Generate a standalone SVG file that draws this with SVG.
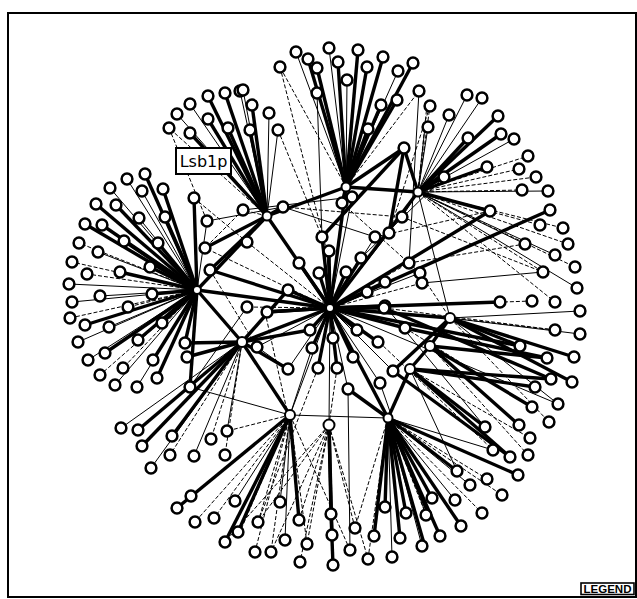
<svg xmlns="http://www.w3.org/2000/svg" width="637" height="599" viewBox="0 0 637 599">
<style>
line{stroke:#000;fill:none}
.k{stroke-width:3.4}
.s{stroke-width:1}
.d{stroke-width:1;stroke-dasharray:4 2}
.nd circle{fill:#fff;stroke:#000;stroke-width:2.5}
.hub circle{fill:#fff;stroke:#000;stroke-width:2}
</style>
<rect x="0" y="0" width="637" height="599" fill="#fff"/>
<rect x="8" y="13" width="628" height="584" fill="none" stroke="#000" stroke-width="2"/>
<g id="edges">
<line class="k" x1="197" y1="290" x2="330" y2="308"/>
<line class="k" x1="197" y1="290" x2="242" y2="342"/>
<line class="k" x1="197" y1="290" x2="267" y2="216"/>
<line class="k" x1="267" y1="216" x2="330" y2="308"/>
<line class="k" x1="346" y1="187" x2="330" y2="308"/>
<line class="k" x1="330" y1="308" x2="418" y2="192"/>
<line class="k" x1="330" y1="308" x2="450" y2="318"/>
<line class="k" x1="330" y1="308" x2="242" y2="342"/>
<line class="s" x1="330" y1="308" x2="290" y2="415"/>
<line class="s" x1="330" y1="308" x2="329" y2="425"/>
<line class="k" x1="330" y1="308" x2="388" y2="418"/>
<line class="k" x1="450" y1="318" x2="430" y2="346"/>
<line class="k" x1="430" y1="346" x2="410" y2="369"/>
<line class="k" x1="410" y1="369" x2="388" y2="418"/>
<line class="k" x1="290" y1="415" x2="242" y2="342"/>
<line class="s" x1="418" y1="192" x2="450" y2="318"/>
<line class="k" x1="346" y1="187" x2="418" y2="192"/>
<line class="k" x1="267" y1="216" x2="346" y2="187"/>
<line class="k" x1="197" y1="290" x2="190" y2="387"/>
<line class="k" x1="242" y1="342" x2="288" y2="369"/>
<line class="k" x1="185" y1="343" x2="242" y2="342"/>
<line class="s" x1="290" y1="415" x2="388" y2="418"/>
<line class="k" x1="410" y1="369" x2="535" y2="387"/>
<line class="k" x1="410" y1="369" x2="551" y2="379"/>
<line class="d" x1="346" y1="187" x2="280" y2="67"/>
<line class="s" x1="346" y1="187" x2="296" y2="52"/>
<line class="k" x1="346" y1="187" x2="308" y2="59"/>
<line class="k" x1="346" y1="187" x2="317" y2="68"/>
<line class="s" x1="346" y1="187" x2="329" y2="48"/>
<line class="k" x1="346" y1="187" x2="338" y2="62"/>
<line class="s" x1="346" y1="187" x2="347" y2="80"/>
<line class="k" x1="346" y1="187" x2="358" y2="50"/>
<line class="k" x1="346" y1="187" x2="367" y2="67"/>
<line class="k" x1="346" y1="187" x2="383" y2="57"/>
<line class="s" x1="346" y1="187" x2="398" y2="71"/>
<line class="k" x1="346" y1="187" x2="413" y2="63"/>
<line class="d" x1="346" y1="187" x2="419" y2="91"/>
<line class="k" x1="346" y1="187" x2="397" y2="100"/>
<line class="k" x1="346" y1="187" x2="381" y2="105"/>
<line class="k" x1="346" y1="187" x2="368" y2="129"/>
<line class="s" x1="322" y1="237" x2="317" y2="93"/>
<line class="k" x1="346" y1="187" x2="404" y2="148"/>
<line class="k" x1="404" y1="148" x2="418" y2="192"/>
<line class="k" x1="267" y1="216" x2="208" y2="96"/>
<line class="k" x1="267" y1="216" x2="225" y2="93"/>
<line class="s" x1="267" y1="216" x2="240" y2="91"/>
<line class="s" x1="267" y1="216" x2="190" y2="104"/>
<line class="k" x1="267" y1="216" x2="208" y2="119"/>
<line class="k" x1="267" y1="216" x2="228" y2="128"/>
<line class="s" x1="267" y1="216" x2="177" y2="114"/>
<line class="d" x1="267" y1="216" x2="169" y2="128"/>
<line class="k" x1="267" y1="216" x2="190" y2="133"/>
<line class="s" x1="267" y1="216" x2="243" y2="90"/>
<line class="k" x1="267" y1="216" x2="252" y2="105"/>
<line class="s" x1="267" y1="216" x2="269" y2="113"/>
<line class="k" x1="267" y1="216" x2="250" y2="130"/>
<line class="s" x1="267" y1="216" x2="278" y2="130"/>
<line class="k" x1="197" y1="290" x2="145" y2="174"/>
<line class="s" x1="197" y1="290" x2="127" y2="179"/>
<line class="k" x1="197" y1="290" x2="163" y2="189"/>
<line class="s" x1="197" y1="290" x2="142" y2="191"/>
<line class="s" x1="197" y1="290" x2="110" y2="188"/>
<line class="k" x1="197" y1="290" x2="96" y2="204"/>
<line class="k" x1="197" y1="290" x2="116" y2="205"/>
<line class="k" x1="197" y1="290" x2="165" y2="217"/>
<line class="s" x1="197" y1="290" x2="139" y2="218"/>
<line class="k" x1="197" y1="290" x2="85" y2="224"/>
<line class="k" x1="197" y1="290" x2="102" y2="225"/>
<line class="d" x1="197" y1="290" x2="79" y2="243"/>
<line class="k" x1="197" y1="290" x2="124" y2="241"/>
<line class="k" x1="197" y1="290" x2="158" y2="243"/>
<line class="s" x1="197" y1="290" x2="98" y2="252"/>
<line class="d" x1="197" y1="290" x2="72" y2="262"/>
<line class="d" x1="197" y1="290" x2="87" y2="274"/>
<line class="k" x1="197" y1="290" x2="120" y2="272"/>
<line class="k" x1="197" y1="290" x2="150" y2="267"/>
<line class="s" x1="197" y1="290" x2="69" y2="284"/>
<line class="s" x1="197" y1="290" x2="100" y2="296"/>
<line class="k" x1="197" y1="290" x2="152" y2="294"/>
<line class="s" x1="197" y1="290" x2="72" y2="302"/>
<line class="d" x1="197" y1="290" x2="128" y2="307"/>
<line class="d" x1="197" y1="290" x2="70" y2="318"/>
<line class="k" x1="197" y1="290" x2="85" y2="325"/>
<line class="s" x1="197" y1="290" x2="109" y2="327"/>
<line class="k" x1="197" y1="290" x2="162" y2="323"/>
<line class="k" x1="197" y1="290" x2="138" y2="340"/>
<line class="s" x1="197" y1="290" x2="78" y2="342"/>
<line class="k" x1="197" y1="290" x2="105" y2="353"/>
<line class="k" x1="197" y1="290" x2="153" y2="360"/>
<line class="s" x1="197" y1="290" x2="88" y2="360"/>
<line class="d" x1="197" y1="290" x2="100" y2="375"/>
<line class="s" x1="197" y1="290" x2="115" y2="385"/>
<line class="s" x1="197" y1="290" x2="137" y2="387"/>
<line class="d" x1="197" y1="290" x2="123" y2="368"/>
<line class="k" x1="197" y1="290" x2="157" y2="378"/>
<line class="k" x1="197" y1="290" x2="194" y2="198"/>
<line class="s" x1="197" y1="290" x2="207" y2="221"/>
<line class="k" x1="197" y1="290" x2="185" y2="343"/>
<line class="k" x1="242" y1="342" x2="187" y2="357"/>
<line class="s" x1="242" y1="342" x2="190" y2="387"/>
<line class="s" x1="242" y1="342" x2="121" y2="428"/>
<line class="k" x1="242" y1="342" x2="138" y2="430"/>
<line class="k" x1="242" y1="342" x2="142" y2="446"/>
<line class="k" x1="242" y1="342" x2="172" y2="436"/>
<line class="d" x1="242" y1="342" x2="170" y2="455"/>
<line class="s" x1="242" y1="342" x2="151" y2="468"/>
<line class="s" x1="242" y1="342" x2="194" y2="456"/>
<line class="d" x1="242" y1="342" x2="211" y2="439"/>
<line class="s" x1="242" y1="342" x2="227" y2="431"/>
<line class="d" x1="242" y1="342" x2="225" y2="455"/>
<line class="s" x1="290" y1="415" x2="191" y2="496"/>
<line class="k" x1="290" y1="415" x2="177" y2="508"/>
<line class="s" x1="290" y1="415" x2="235" y2="501"/>
<line class="d" x1="290" y1="415" x2="195" y2="522"/>
<line class="d" x1="290" y1="415" x2="214" y2="518"/>
<line class="k" x1="290" y1="415" x2="238" y2="532"/>
<line class="k" x1="290" y1="415" x2="225" y2="542"/>
<line class="s" x1="290" y1="415" x2="280" y2="502"/>
<line class="d" x1="290" y1="415" x2="258" y2="522"/>
<line class="d" x1="290" y1="415" x2="255" y2="552"/>
<line class="d" x1="290" y1="415" x2="271" y2="552"/>
<line class="d" x1="290" y1="415" x2="240" y2="532"/>
<line class="s" x1="290" y1="415" x2="285" y2="540"/>
<line class="k" x1="290" y1="415" x2="299" y2="520"/>
<line class="d" x1="290" y1="415" x2="350" y2="550"/>
<line class="d" x1="290" y1="415" x2="307" y2="544"/>
<line class="k" x1="329" y1="425" x2="331" y2="514"/>
<line class="d" x1="329" y1="425" x2="307" y2="544"/>
<line class="k" x1="329" y1="425" x2="332" y2="535"/>
<line class="d" x1="329" y1="425" x2="300" y2="562"/>
<line class="k" x1="331" y1="514" x2="333" y2="565"/>
<line class="d" x1="329" y1="425" x2="355" y2="528"/>
<line class="s" x1="348" y1="389" x2="350" y2="550"/>
<line class="d" x1="329" y1="425" x2="368" y2="559"/>
<line class="d" x1="329" y1="425" x2="258" y2="522"/>
<line class="d" x1="329" y1="425" x2="271" y2="552"/>
<line class="d" x1="329" y1="425" x2="225" y2="542"/>
<line class="k" x1="388" y1="418" x2="374" y2="536"/>
<line class="k" x1="388" y1="418" x2="385" y2="507"/>
<line class="k" x1="388" y1="418" x2="406" y2="513"/>
<line class="d" x1="388" y1="418" x2="426" y2="515"/>
<line class="k" x1="388" y1="418" x2="400" y2="538"/>
<line class="s" x1="388" y1="418" x2="422" y2="546"/>
<line class="s" x1="388" y1="418" x2="392" y2="557"/>
<line class="k" x1="388" y1="418" x2="425" y2="547"/>
<line class="k" x1="388" y1="418" x2="440" y2="536"/>
<line class="k" x1="388" y1="418" x2="461" y2="526"/>
<line class="k" x1="388" y1="418" x2="429" y2="515"/>
<line class="k" x1="388" y1="418" x2="432" y2="498"/>
<line class="s" x1="388" y1="418" x2="455" y2="500"/>
<line class="d" x1="388" y1="418" x2="482" y2="513"/>
<line class="s" x1="388" y1="418" x2="470" y2="485"/>
<line class="d" x1="388" y1="418" x2="502" y2="495"/>
<line class="k" x1="388" y1="418" x2="457" y2="471"/>
<line class="d" x1="388" y1="418" x2="487" y2="479"/>
<line class="k" x1="388" y1="418" x2="518" y2="475"/>
<line class="s" x1="388" y1="418" x2="493" y2="450"/>
<line class="d" x1="388" y1="418" x2="368" y2="559"/>
<line class="d" x1="388" y1="418" x2="355" y2="528"/>
<line class="k" x1="410" y1="369" x2="485" y2="427"/>
<line class="k" x1="430" y1="346" x2="519" y2="425"/>
<line class="d" x1="410" y1="369" x2="530" y2="438"/>
<line class="k" x1="410" y1="369" x2="510" y2="457"/>
<line class="d" x1="430" y1="346" x2="528" y2="455"/>
<line class="d" x1="450" y1="318" x2="549" y2="422"/>
<line class="k" x1="430" y1="346" x2="532" y2="407"/>
<line class="s" x1="450" y1="318" x2="558" y2="404"/>
<line class="k" x1="450" y1="318" x2="572" y2="382"/>
<line class="k" x1="430" y1="346" x2="547" y2="358"/>
<line class="k" x1="450" y1="318" x2="574" y2="357"/>
<line class="k" x1="450" y1="318" x2="520" y2="346"/>
<line class="d" x1="450" y1="318" x2="555" y2="330"/>
<line class="s" x1="450" y1="318" x2="580" y2="334"/>
<line class="s" x1="450" y1="318" x2="580" y2="311"/>
<line class="d" x1="418" y1="192" x2="555" y2="302"/>
<line class="d" x1="330" y1="308" x2="532" y2="301"/>
<line class="k" x1="330" y1="308" x2="500" y2="302"/>
<line class="k" x1="330" y1="308" x2="520" y2="346"/>
<line class="s" x1="330" y1="308" x2="558" y2="404"/>
<line class="k" x1="384" y1="308" x2="551" y2="379"/>
<line class="d" x1="405" y1="328" x2="532" y2="407"/>
<line class="s" x1="418" y1="192" x2="467" y2="95"/>
<line class="s" x1="418" y1="192" x2="482" y2="98"/>
<line class="d" x1="418" y1="192" x2="430" y2="106"/>
<line class="s" x1="418" y1="192" x2="449" y2="115"/>
<line class="k" x1="418" y1="192" x2="498" y2="116"/>
<line class="s" x1="418" y1="192" x2="428" y2="127"/>
<line class="k" x1="418" y1="192" x2="468" y2="138"/>
<line class="k" x1="418" y1="192" x2="501" y2="134"/>
<line class="s" x1="418" y1="192" x2="514" y2="139"/>
<line class="d" x1="418" y1="192" x2="528" y2="156"/>
<line class="k" x1="418" y1="192" x2="487" y2="167"/>
<line class="d" x1="418" y1="192" x2="519" y2="169"/>
<line class="d" x1="418" y1="192" x2="536" y2="177"/>
<line class="k" x1="418" y1="192" x2="444" y2="177"/>
<line class="s" x1="418" y1="192" x2="548" y2="191"/>
<line class="d" x1="418" y1="192" x2="522" y2="190"/>
<line class="k" x1="418" y1="192" x2="490" y2="211"/>
<line class="k" x1="330" y1="308" x2="550" y2="210"/>
<line class="d" x1="418" y1="192" x2="540" y2="225"/>
<line class="d" x1="418" y1="192" x2="563" y2="228"/>
<line class="s" x1="418" y1="192" x2="525" y2="244"/>
<line class="d" x1="418" y1="192" x2="568" y2="244"/>
<line class="s" x1="418" y1="192" x2="555" y2="255"/>
<line class="d" x1="418" y1="192" x2="575" y2="267"/>
<line class="d" x1="418" y1="192" x2="543" y2="272"/>
<line class="s" x1="418" y1="192" x2="577" y2="288"/>
<line class="d" x1="418" y1="192" x2="427" y2="105"/>
<line class="s" x1="418" y1="192" x2="425" y2="127"/>
<line class="k" x1="330" y1="308" x2="490" y2="211"/>
<line class="d" x1="402" y1="217" x2="543" y2="272"/>
<line class="k" x1="267" y1="216" x2="283" y2="207"/>
<line class="k" x1="346" y1="187" x2="342" y2="203"/>
<line class="s" x1="330" y1="308" x2="352" y2="197"/>
<line class="k" x1="330" y1="308" x2="322" y2="237"/>
<line class="k" x1="330" y1="308" x2="329" y2="251"/>
<line class="k" x1="330" y1="308" x2="299" y2="263"/>
<line class="k" x1="330" y1="308" x2="319" y2="273"/>
<line class="k" x1="330" y1="308" x2="346" y2="272"/>
<line class="k" x1="330" y1="308" x2="361" y2="258"/>
<line class="s" x1="330" y1="308" x2="375" y2="237"/>
<line class="s" x1="330" y1="308" x2="389" y2="233"/>
<line class="s" x1="418" y1="192" x2="402" y2="217"/>
<line class="d" x1="330" y1="308" x2="409" y2="263"/>
<line class="s" x1="330" y1="308" x2="420" y2="273"/>
<line class="d" x1="330" y1="308" x2="422" y2="283"/>
<line class="k" x1="330" y1="308" x2="367" y2="292"/>
<line class="k" x1="330" y1="308" x2="385" y2="306"/>
<line class="k" x1="330" y1="308" x2="288" y2="290"/>
<line class="d" x1="330" y1="308" x2="247" y2="242"/>
<line class="d" x1="267" y1="216" x2="243" y2="210"/>
<line class="k" x1="330" y1="308" x2="385" y2="282"/>
<line class="k" x1="330" y1="308" x2="267" y2="312"/>
<line class="k" x1="330" y1="308" x2="310" y2="330"/>
<line class="k" x1="330" y1="308" x2="333" y2="338"/>
<line class="k" x1="330" y1="308" x2="357" y2="330"/>
<line class="k" x1="330" y1="308" x2="378" y2="342"/>
<line class="k" x1="330" y1="308" x2="312" y2="348"/>
<line class="k" x1="330" y1="308" x2="353" y2="357"/>
<line class="s" x1="330" y1="308" x2="257" y2="347"/>
<line class="d" x1="330" y1="308" x2="247" y2="307"/>
<line class="k" x1="330" y1="308" x2="265" y2="312"/>
<line class="k" x1="330" y1="308" x2="384" y2="308"/>
<line class="k" x1="330" y1="308" x2="405" y2="328"/>
<line class="s" x1="330" y1="308" x2="379" y2="342"/>
<line class="s" x1="330" y1="308" x2="288" y2="369"/>
<line class="k" x1="330" y1="308" x2="318" y2="368"/>
<line class="k" x1="330" y1="308" x2="337" y2="368"/>
<line class="s" x1="330" y1="308" x2="393" y2="371"/>
<line class="s" x1="330" y1="308" x2="348" y2="389"/>
<line class="s" x1="330" y1="308" x2="380" y2="383"/>
<line class="s" x1="330" y1="308" x2="327" y2="252"/>
<line class="d" x1="330" y1="308" x2="205" y2="248"/>
<line class="k" x1="330" y1="308" x2="210" y2="270"/>
<line class="d" x1="243" y1="210" x2="205" y2="248"/>
<line class="s" x1="207" y1="221" x2="283" y2="207"/>
<line class="d" x1="194" y1="198" x2="247" y2="242"/>
<line class="k" x1="267" y1="216" x2="210" y2="270"/>
<line class="k" x1="267" y1="216" x2="205" y2="248"/>
<line class="s" x1="283" y1="207" x2="375" y2="237"/>
<line class="d" x1="283" y1="207" x2="402" y2="217"/>
<line class="s" x1="243" y1="210" x2="352" y2="197"/>
<line class="k" x1="322" y1="237" x2="404" y2="148"/>
<line class="d" x1="342" y1="203" x2="420" y2="273"/>
<line class="s" x1="361" y1="258" x2="444" y2="177"/>
<line class="k" x1="389" y1="233" x2="404" y2="148"/>
<line class="d" x1="375" y1="237" x2="490" y2="211"/>
<line class="d" x1="409" y1="263" x2="525" y2="244"/>
<line class="s" x1="422" y1="283" x2="543" y2="272"/>
<line class="k" x1="242" y1="342" x2="310" y2="330"/>
<line class="k" x1="242" y1="342" x2="288" y2="290"/>
<line class="s" x1="257" y1="347" x2="288" y2="369"/>
<line class="d" x1="210" y1="270" x2="257" y2="347"/>
<line class="s" x1="247" y1="307" x2="190" y2="387"/>
<line class="d" x1="265" y1="312" x2="288" y2="415"/>
<line class="s" x1="312" y1="348" x2="290" y2="415"/>
<line class="d" x1="318" y1="368" x2="258" y2="522"/>
<line class="d" x1="337" y1="368" x2="329" y2="425"/>
<line class="k" x1="348" y1="389" x2="388" y2="418"/>
<line class="s" x1="380" y1="383" x2="426" y2="515"/>
<line class="k" x1="393" y1="371" x2="510" y2="457"/>
<line class="d" x1="379" y1="342" x2="493" y2="450"/>
<line class="k" x1="405" y1="328" x2="547" y2="358"/>
<line class="d" x1="384" y1="308" x2="555" y2="330"/>
<line class="s" x1="385" y1="306" x2="485" y2="427"/>
<line class="k" x1="450" y1="318" x2="393" y2="371"/>
<line class="d" x1="420" y1="273" x2="450" y2="318"/>
<line class="s" x1="410" y1="369" x2="457" y2="471"/>
<line class="d" x1="290" y1="415" x2="227" y2="431"/>
<line class="d" x1="329" y1="425" x2="299" y2="520"/>
<line class="s" x1="190" y1="387" x2="290" y2="415"/>
<line class="d" x1="280" y1="67" x2="327" y2="252"/>
<line class="d" x1="278" y1="130" x2="322" y2="237"/>
<line class="d" x1="169" y1="128" x2="207" y2="221"/>
<line class="d" x1="430" y1="106" x2="389" y2="233"/>
<line class="s" x1="419" y1="91" x2="409" y2="263"/>
</g>
<g id="nodes" class="nd">
<g id="hA" class="hub"><circle cx="197" cy="290" r="4"/></g>
<g id="hB" class="hub"><circle cx="267" cy="216" r="4.5"/></g>
<g id="hC" class="hub"><circle cx="346" cy="187" r="4.5"/></g>
<g id="hD" class="hub"><circle cx="330" cy="308" r="4"/></g>
<g id="hE" class="hub"><circle cx="418" cy="192" r="4.5"/></g>
<g id="hF" class="hub"><circle cx="450" cy="318" r="5"/></g>
<g id="hG" class="hub"><circle cx="388" cy="418" r="4.5"/></g>
<g id="hH" class="hub"><circle cx="290" cy="415" r="5"/></g>
<g id="hI" class="hub"><circle cx="329" cy="425" r="5.5"/></g>
<g id="hJ" class="hub"><circle cx="242" cy="342" r="5"/></g>
<g id="hK" class="hub"><circle cx="430" cy="346" r="5"/></g>
<g id="hL" class="hub"><circle cx="410" cy="369" r="5"/></g>
<g id="n1"><circle cx="280" cy="67" r="5.4"/></g>
<g id="n2"><circle cx="296" cy="52" r="5.4"/></g>
<g id="n3"><circle cx="308" cy="59" r="5.4"/></g>
<g id="n4"><circle cx="317" cy="68" r="5.4"/></g>
<g id="n5"><circle cx="329" cy="48" r="5.4"/></g>
<g id="n6"><circle cx="338" cy="62" r="5.4"/></g>
<g id="n7"><circle cx="347" cy="80" r="5.4"/></g>
<g id="n8"><circle cx="358" cy="50" r="5.4"/></g>
<g id="n9"><circle cx="367" cy="67" r="5.4"/></g>
<g id="n10"><circle cx="383" cy="57" r="5.4"/></g>
<g id="n11"><circle cx="398" cy="71" r="5.4"/></g>
<g id="n12"><circle cx="413" cy="63" r="5.4"/></g>
<g id="n13"><circle cx="419" cy="91" r="5.4"/></g>
<g id="n14"><circle cx="397" cy="100" r="5.4"/></g>
<g id="n15"><circle cx="381" cy="105" r="5.4"/></g>
<g id="n16"><circle cx="368" cy="129" r="5.4"/></g>
<g id="n17"><circle cx="317" cy="93" r="5.4"/></g>
<g id="n18"><circle cx="404" cy="148" r="5.4"/></g>
<g id="n19"><circle cx="208" cy="96" r="5.4"/></g>
<g id="n20"><circle cx="225" cy="93" r="5.4"/></g>
<g id="n21"><circle cx="240" cy="91" r="5.4"/></g>
<g id="n22"><circle cx="190" cy="104" r="5.4"/></g>
<g id="n23"><circle cx="208" cy="119" r="5.4"/></g>
<g id="n24"><circle cx="228" cy="128" r="5.4"/></g>
<g id="n25"><circle cx="177" cy="114" r="5.4"/></g>
<g id="n26"><circle cx="169" cy="128" r="5.4"/></g>
<g id="n27"><circle cx="190" cy="133" r="5.4"/></g>
<g id="n28"><circle cx="243" cy="90" r="5.4"/></g>
<g id="n29"><circle cx="252" cy="105" r="5.4"/></g>
<g id="n30"><circle cx="269" cy="113" r="5.4"/></g>
<g id="n31"><circle cx="250" cy="130" r="5.4"/></g>
<g id="n32"><circle cx="278" cy="130" r="5.4"/></g>
<g id="n33"><circle cx="145" cy="174" r="5.4"/></g>
<g id="n34"><circle cx="127" cy="179" r="5.4"/></g>
<g id="n35"><circle cx="163" cy="189" r="5.4"/></g>
<g id="n36"><circle cx="142" cy="191" r="5.4"/></g>
<g id="n37"><circle cx="110" cy="188" r="5.4"/></g>
<g id="n38"><circle cx="96" cy="204" r="5.4"/></g>
<g id="n39"><circle cx="116" cy="205" r="5.4"/></g>
<g id="n40"><circle cx="165" cy="217" r="5.4"/></g>
<g id="n41"><circle cx="139" cy="218" r="5.4"/></g>
<g id="n42"><circle cx="85" cy="224" r="5.4"/></g>
<g id="n43"><circle cx="102" cy="225" r="5.4"/></g>
<g id="n44"><circle cx="79" cy="243" r="5.4"/></g>
<g id="n45"><circle cx="124" cy="241" r="5.4"/></g>
<g id="n46"><circle cx="158" cy="243" r="5.4"/></g>
<g id="n47"><circle cx="98" cy="252" r="5.4"/></g>
<g id="n48"><circle cx="72" cy="262" r="5.4"/></g>
<g id="n49"><circle cx="87" cy="274" r="5.4"/></g>
<g id="n50"><circle cx="120" cy="272" r="5.4"/></g>
<g id="n51"><circle cx="150" cy="267" r="5.4"/></g>
<g id="n52"><circle cx="69" cy="284" r="5.4"/></g>
<g id="n53"><circle cx="100" cy="296" r="5.4"/></g>
<g id="n54"><circle cx="152" cy="294" r="5.4"/></g>
<g id="n55"><circle cx="72" cy="302" r="5.4"/></g>
<g id="n56"><circle cx="128" cy="307" r="5.4"/></g>
<g id="n57"><circle cx="70" cy="318" r="5.4"/></g>
<g id="n58"><circle cx="85" cy="325" r="5.4"/></g>
<g id="n59"><circle cx="109" cy="327" r="5.4"/></g>
<g id="n60"><circle cx="162" cy="323" r="5.4"/></g>
<g id="n61"><circle cx="138" cy="340" r="5.4"/></g>
<g id="n62"><circle cx="78" cy="342" r="5.4"/></g>
<g id="n63"><circle cx="105" cy="353" r="5.4"/></g>
<g id="n64"><circle cx="153" cy="360" r="5.4"/></g>
<g id="n65"><circle cx="88" cy="360" r="5.4"/></g>
<g id="n66"><circle cx="100" cy="375" r="5.4"/></g>
<g id="n67"><circle cx="115" cy="385" r="5.4"/></g>
<g id="n68"><circle cx="137" cy="387" r="5.4"/></g>
<g id="n69"><circle cx="123" cy="368" r="5.4"/></g>
<g id="n70"><circle cx="157" cy="378" r="5.4"/></g>
<g id="n71"><circle cx="194" cy="198" r="5.4"/></g>
<g id="n72"><circle cx="207" cy="221" r="5.4"/></g>
<g id="n73"><circle cx="185" cy="343" r="5.4"/></g>
<g id="n74"><circle cx="187" cy="357" r="5.4"/></g>
<g id="n75"><circle cx="190" cy="387" r="5.4"/></g>
<g id="n76"><circle cx="121" cy="428" r="5.4"/></g>
<g id="n77"><circle cx="138" cy="430" r="5.4"/></g>
<g id="n78"><circle cx="142" cy="446" r="5.4"/></g>
<g id="n79"><circle cx="172" cy="436" r="5.4"/></g>
<g id="n80"><circle cx="170" cy="455" r="5.4"/></g>
<g id="n81"><circle cx="151" cy="468" r="5.4"/></g>
<g id="n82"><circle cx="194" cy="456" r="5.4"/></g>
<g id="n83"><circle cx="211" cy="439" r="5.4"/></g>
<g id="n84"><circle cx="227" cy="431" r="5.4"/></g>
<g id="n85"><circle cx="225" cy="455" r="5.4"/></g>
<g id="n86"><circle cx="191" cy="496" r="5.4"/></g>
<g id="n87"><circle cx="177" cy="508" r="5.4"/></g>
<g id="n88"><circle cx="235" cy="501" r="5.4"/></g>
<g id="n89"><circle cx="195" cy="522" r="5.4"/></g>
<g id="n90"><circle cx="214" cy="518" r="5.4"/></g>
<g id="n91"><circle cx="238" cy="532" r="5.4"/></g>
<g id="n92"><circle cx="225" cy="542" r="5.4"/></g>
<g id="n93"><circle cx="280" cy="502" r="5.4"/></g>
<g id="n94"><circle cx="258" cy="522" r="5.4"/></g>
<g id="n95"><circle cx="255" cy="552" r="5.4"/></g>
<g id="n96"><circle cx="271" cy="552" r="5.4"/></g>
<g id="n98"><circle cx="285" cy="540" r="5.4"/></g>
<g id="n99"><circle cx="299" cy="520" r="5.4"/></g>
<g id="n100"><circle cx="331" cy="514" r="5.4"/></g>
<g id="n101"><circle cx="307" cy="544" r="5.4"/></g>
<g id="n102"><circle cx="332" cy="535" r="5.4"/></g>
<g id="n103"><circle cx="300" cy="562" r="5.4"/></g>
<g id="n104"><circle cx="333" cy="565" r="5.4"/></g>
<g id="n105"><circle cx="355" cy="528" r="5.4"/></g>
<g id="n106"><circle cx="350" cy="550" r="5.4"/></g>
<g id="n107"><circle cx="368" cy="559" r="5.4"/></g>
<g id="n108"><circle cx="374" cy="536" r="5.4"/></g>
<g id="n109"><circle cx="385" cy="507" r="5.4"/></g>
<g id="n110"><circle cx="406" cy="513" r="5.4"/></g>
<g id="n111"><circle cx="426" cy="515" r="5.4"/></g>
<g id="n112"><circle cx="400" cy="538" r="5.4"/></g>
<g id="n113"><circle cx="422" cy="546" r="5.4"/></g>
<g id="n114"><circle cx="392" cy="557" r="5.4"/></g>
<g id="n115"><circle cx="440" cy="536" r="5.4"/></g>
<g id="n116"><circle cx="461" cy="526" r="5.4"/></g>
<g id="n117"><circle cx="432" cy="498" r="5.4"/></g>
<g id="n118"><circle cx="455" cy="500" r="5.4"/></g>
<g id="n119"><circle cx="482" cy="513" r="5.4"/></g>
<g id="n120"><circle cx="470" cy="485" r="5.4"/></g>
<g id="n121"><circle cx="502" cy="495" r="5.4"/></g>
<g id="n122"><circle cx="457" cy="471" r="5.4"/></g>
<g id="n123"><circle cx="487" cy="479" r="5.4"/></g>
<g id="n124"><circle cx="518" cy="475" r="5.4"/></g>
<g id="n125"><circle cx="485" cy="427" r="5.4"/></g>
<g id="n126"><circle cx="519" cy="425" r="5.4"/></g>
<g id="n127"><circle cx="530" cy="438" r="5.4"/></g>
<g id="n128"><circle cx="493" cy="450" r="5.4"/></g>
<g id="n129"><circle cx="510" cy="457" r="5.4"/></g>
<g id="n130"><circle cx="528" cy="455" r="5.4"/></g>
<g id="n131"><circle cx="549" cy="422" r="5.4"/></g>
<g id="n132"><circle cx="532" cy="407" r="5.4"/></g>
<g id="n133"><circle cx="558" cy="404" r="5.4"/></g>
<g id="n134"><circle cx="535" cy="387" r="5.4"/></g>
<g id="n135"><circle cx="551" cy="379" r="5.4"/></g>
<g id="n136"><circle cx="572" cy="382" r="5.4"/></g>
<g id="n137"><circle cx="547" cy="358" r="5.4"/></g>
<g id="n138"><circle cx="574" cy="357" r="5.4"/></g>
<g id="n139"><circle cx="520" cy="346" r="5.4"/></g>
<g id="n140"><circle cx="555" cy="330" r="5.4"/></g>
<g id="n141"><circle cx="580" cy="334" r="5.4"/></g>
<g id="n142"><circle cx="580" cy="311" r="5.4"/></g>
<g id="n143"><circle cx="555" cy="302" r="5.4"/></g>
<g id="n144"><circle cx="532" cy="301" r="5.4"/></g>
<g id="n145"><circle cx="500" cy="302" r="5.4"/></g>
<g id="n146"><circle cx="467" cy="95" r="5.4"/></g>
<g id="n147"><circle cx="482" cy="98" r="5.4"/></g>
<g id="n148"><circle cx="430" cy="106" r="5.4"/></g>
<g id="n149"><circle cx="449" cy="115" r="5.4"/></g>
<g id="n150"><circle cx="498" cy="116" r="5.4"/></g>
<g id="n151"><circle cx="428" cy="127" r="5.4"/></g>
<g id="n152"><circle cx="468" cy="138" r="5.4"/></g>
<g id="n153"><circle cx="501" cy="134" r="5.4"/></g>
<g id="n154"><circle cx="514" cy="139" r="5.4"/></g>
<g id="n155"><circle cx="528" cy="156" r="5.4"/></g>
<g id="n156"><circle cx="487" cy="167" r="5.4"/></g>
<g id="n157"><circle cx="519" cy="169" r="5.4"/></g>
<g id="n158"><circle cx="536" cy="177" r="5.4"/></g>
<g id="n159"><circle cx="444" cy="177" r="5.4"/></g>
<g id="n160"><circle cx="548" cy="191" r="5.4"/></g>
<g id="n161"><circle cx="522" cy="190" r="5.4"/></g>
<g id="n162"><circle cx="490" cy="211" r="5.4"/></g>
<g id="n163"><circle cx="550" cy="210" r="5.4"/></g>
<g id="n164"><circle cx="540" cy="225" r="5.4"/></g>
<g id="n165"><circle cx="563" cy="228" r="5.4"/></g>
<g id="n166"><circle cx="525" cy="244" r="5.4"/></g>
<g id="n167"><circle cx="568" cy="244" r="5.4"/></g>
<g id="n168"><circle cx="555" cy="255" r="5.4"/></g>
<g id="n169"><circle cx="575" cy="267" r="5.4"/></g>
<g id="n170"><circle cx="543" cy="272" r="5.4"/></g>
<g id="n171"><circle cx="577" cy="288" r="5.4"/></g>
<g id="n174"><circle cx="283" cy="207" r="5.4"/></g>
<g id="n175"><circle cx="342" cy="203" r="5.4"/></g>
<g id="n176"><circle cx="352" cy="197" r="5.4"/></g>
<g id="n177"><circle cx="322" cy="237" r="5.4"/></g>
<g id="n178"><circle cx="329" cy="251" r="5.4"/></g>
<g id="n179"><circle cx="299" cy="263" r="5.4"/></g>
<g id="n180"><circle cx="319" cy="273" r="5.4"/></g>
<g id="n181"><circle cx="346" cy="272" r="5.4"/></g>
<g id="n182"><circle cx="361" cy="258" r="5.4"/></g>
<g id="n183"><circle cx="375" cy="237" r="5.4"/></g>
<g id="n184"><circle cx="389" cy="233" r="5.4"/></g>
<g id="n185"><circle cx="402" cy="217" r="5.4"/></g>
<g id="n186"><circle cx="409" cy="263" r="5.4"/></g>
<g id="n187"><circle cx="420" cy="273" r="5.4"/></g>
<g id="n188"><circle cx="422" cy="283" r="5.4"/></g>
<g id="n189"><circle cx="367" cy="292" r="5.4"/></g>
<g id="n190"><circle cx="385" cy="306" r="5.4"/></g>
<g id="n191"><circle cx="288" cy="290" r="5.4"/></g>
<g id="n192"><circle cx="247" cy="242" r="5.4"/></g>
<g id="n193"><circle cx="243" cy="210" r="5.4"/></g>
<g id="n194"><circle cx="385" cy="282" r="5.4"/></g>
<g id="n195"><circle cx="267" cy="312" r="5.4"/></g>
<g id="n196"><circle cx="310" cy="330" r="5.4"/></g>
<g id="n197"><circle cx="333" cy="338" r="5.4"/></g>
<g id="n198"><circle cx="357" cy="330" r="5.4"/></g>
<g id="n199"><circle cx="378" cy="342" r="5.4"/></g>
<g id="n200"><circle cx="312" cy="348" r="5.4"/></g>
<g id="n201"><circle cx="353" cy="357" r="5.4"/></g>
<g id="n202"><circle cx="257" cy="347" r="5.4"/></g>
<g id="n203"><circle cx="247" cy="307" r="5.4"/></g>
<g id="n205"><circle cx="405" cy="328" r="5.4"/></g>
<g id="n206"><circle cx="288" cy="369" r="5.4"/></g>
<g id="n207"><circle cx="318" cy="368" r="5.4"/></g>
<g id="n208"><circle cx="337" cy="368" r="5.4"/></g>
<g id="n209"><circle cx="393" cy="371" r="5.4"/></g>
<g id="n210"><circle cx="348" cy="389" r="5.4"/></g>
<g id="n211"><circle cx="380" cy="383" r="5.4"/></g>
<g id="n212"><circle cx="205" cy="248" r="5.4"/></g>
<g id="n213"><circle cx="210" cy="270" r="5.4"/></g>
<g id="n214"><circle cx="384" cy="308" r="5.4"/></g>
</g>
<g id="label-lsb1p">
<rect x="176" y="148" width="55" height="26" fill="#fff" stroke="#000" stroke-width="2"/>
<text x="203.5" y="167" font-family="DejaVu Sans, sans-serif" font-size="16" text-anchor="middle" fill="#000">Lsb1p</text>
</g>
<g id="legend">
<rect x="581" y="583" width="53" height="11.5" fill="#fff" stroke="#000" stroke-width="1.6"/>
<text x="607.5" y="593" font-family="Liberation Sans, Arial, sans-serif" font-weight="bold" font-size="11" text-anchor="middle" textLength="48" lengthAdjust="spacingAndGlyphs" fill="#000">LEGEND</text>
</g>
</svg>
